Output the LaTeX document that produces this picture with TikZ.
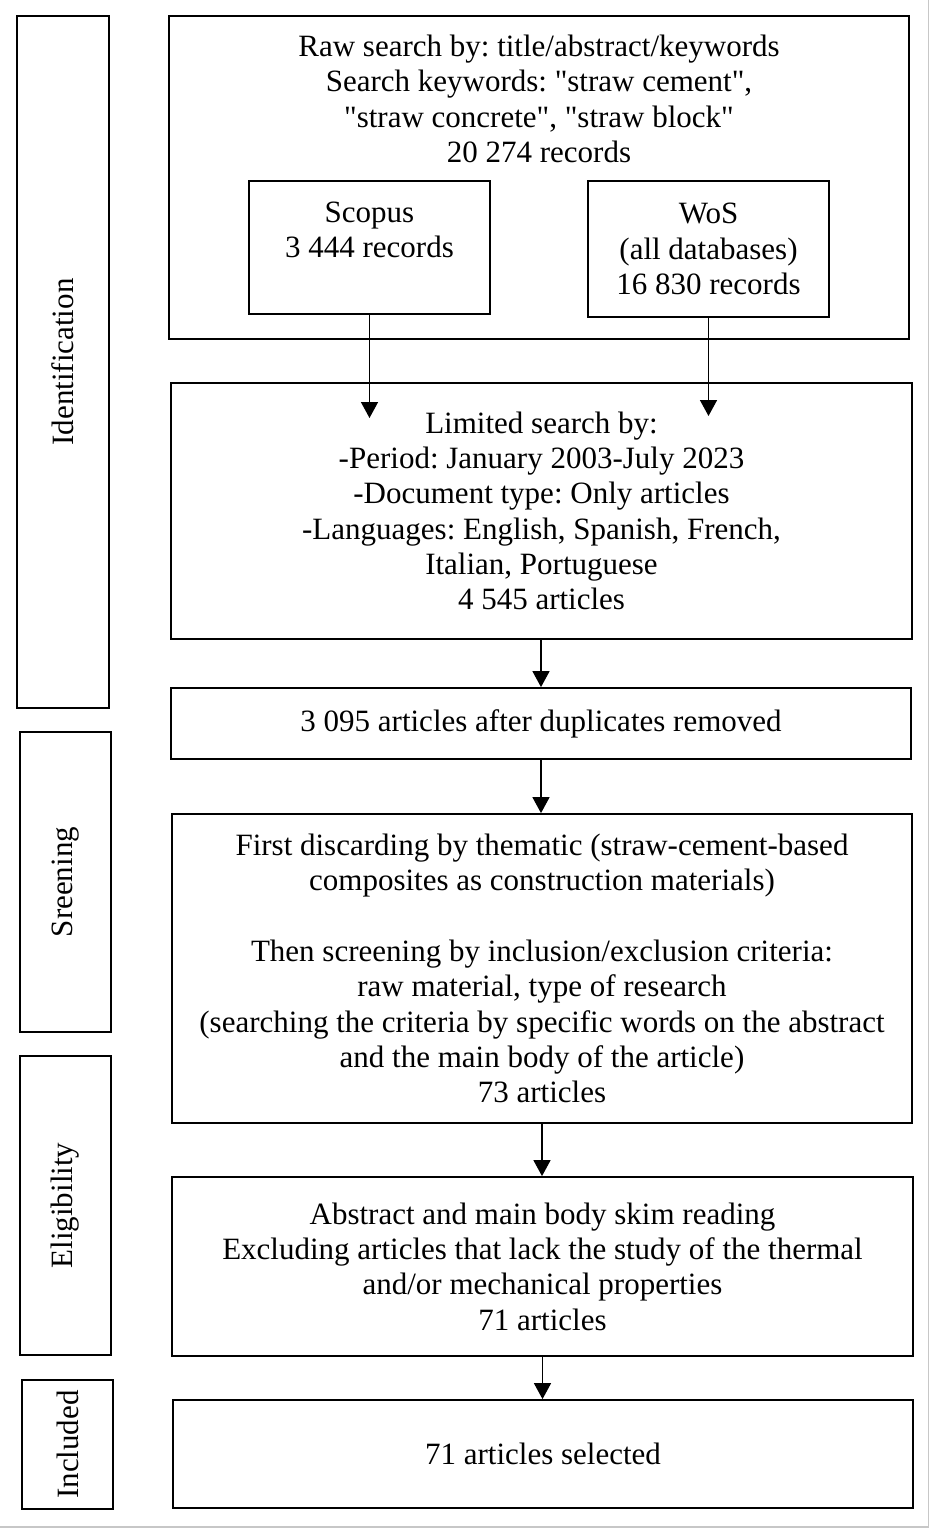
\documentclass[tikz,border=0pt]{standalone}
\usepackage{fontspec}
\setmainfont{Liberation Serif}
\usetikzlibrary{arrows.meta}
\frenchspacing
\newcommand{\sq}{\textquotedbl{}}
\begin{document}
\begin{tikzpicture}[x=1pt,y=-1pt,
  every node/.style={font=\fontsize{31}{35.3}\selectfont, inner sep=0pt},
  box/.style={draw, line width=1.8pt, align=center},
  side/.style={draw, line width=1.8pt, rotate=90},
  arr/.style={line width=1.5pt, -{Triangle[length=16pt,width=17pt]}},
  txt/.style={align=center}]
\useasboundingbox (0,0) rectangle (930,1528);
\fill[white] (0,0) rectangle (930,1528);
\draw[black!22, line width=1.2pt] (928.5,0) -- (928.5,1527) -- (0,1527);

% side stage boxes
\node[side, minimum width=692pt, minimum height=92pt] (ident) at (63,362) {Identification};
\node[side, minimum width=300pt, minimum height=91pt] (screen) at (65.5,882) {Sreening};
\node[side, minimum width=299pt, minimum height=91pt] (elig) at (65.5,1205.5) {Eligibility};
\node[side, minimum width=129pt, minimum height=91pt] (incl) at (67.5,1444.5) {Included};

% top box
\node[box, minimum width=740pt, minimum height=323pt] (top) at (539,177.5) {};
\node[txt] (toptext) at (539,99) {Raw search by: title/abstract/keywords\\Search keywords: \sq straw cement\sq,\\\sq straw concrete\sq, \sq straw block\sq\\20 274 records};
\node[box, minimum width=241pt, minimum height=133pt] (scopus) at (369.5,247.5) {Scopus\\3 444 records\\\mbox{}};
\node[box, minimum width=241pt, minimum height=136pt] (wos) at (708.5,249) {WoS\\(all databases)\\16 830 records};

% main flow
\node[box, minimum width=741pt, minimum height=256pt] (limited) at (541.5,511)
  {Limited search by:\\-Period: January 2003-July 2023\\-Document type: Only articles\\-Languages: English, Spanish, French,\\Italian, Portuguese\\4 545 articles};
\node[box, minimum width=740pt, minimum height=71pt] (dup) at (541,723.5) {3 095 articles after duplicates removed};
\node[box, minimum width=740pt, minimum height=309pt] (them) at (542,968.5)
  {First discarding by thematic (straw-cement-based\\composites as construction materials)\\[35.3pt]Then screening by inclusion/exclusion criteria:\\raw material, type of research\\(searching the criteria by specific words on the abstract\\and the main body of the article)\\73 articles};
\node[box, minimum width=741pt, minimum height=179pt] (eligc) at (542.5,1266.5)
  {Abstract and main body skim reading\\Excluding articles that lack the study of the thermal\\and/or mechanical properties\\71 articles};
\node[box, minimum width=740pt, minimum height=108pt] (inclc) at (543,1454) {71 articles selected};

% arrows
\coordinate (sEnd) at (369.5,418);
\coordinate (wEnd) at (708.5,416);
\draw[arr] (scopus.south) -- (sEnd);
\draw[arr] (wos.south) -- (wEnd);
\draw[arr] (limited.south -| dup.north) -- (dup.north);
\draw[arr] (dup.south) -- (dup.south |- them.north);
\draw[arr] (them.south) -- (them.south |- eligc.north);
\draw[arr] (eligc.south) -- (eligc.south |- inclc.north);
\end{tikzpicture}
\end{document}
